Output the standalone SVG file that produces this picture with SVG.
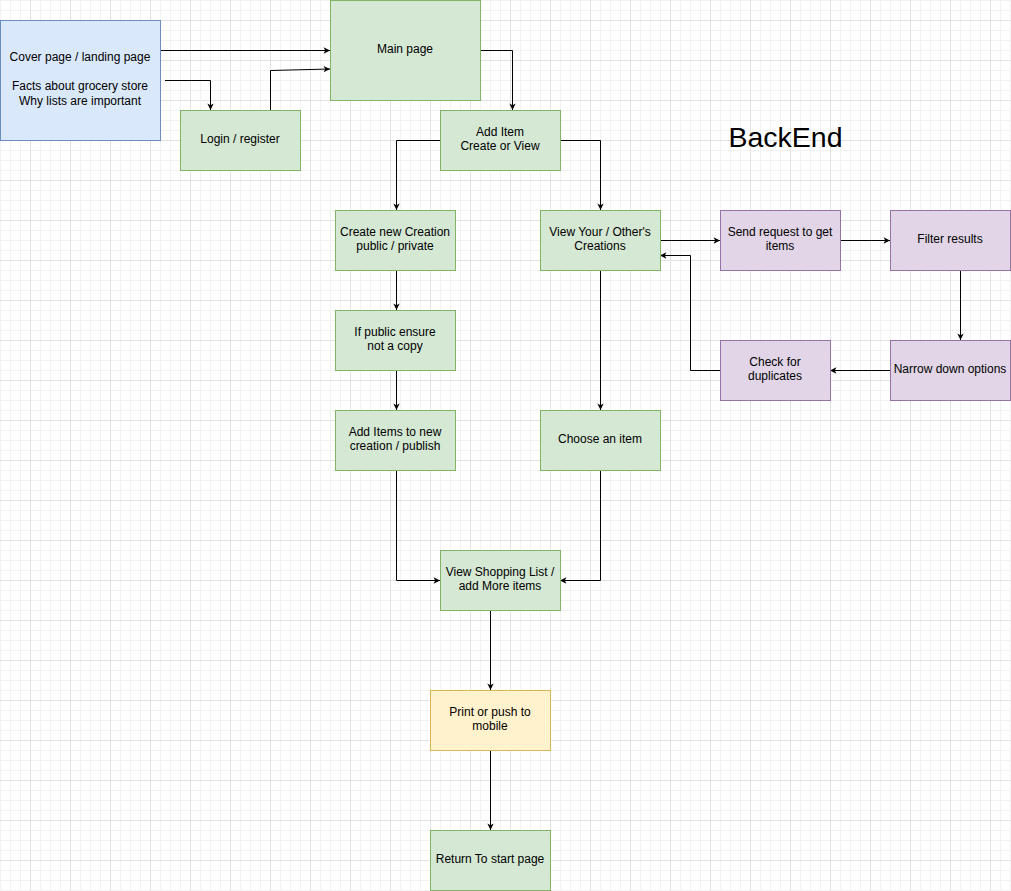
<svg xmlns="http://www.w3.org/2000/svg" width="1011" height="891" viewBox="0 0 1011 891">
<defs>
<pattern id="minor" width="10" height="10" patternUnits="userSpaceOnUse"><path d="M0.5 0V10M0 0.5H10" fill="none" stroke="#f2f2f2" stroke-width="1"/></pattern>
<pattern id="major" x="30" y="20" width="40" height="40" patternUnits="userSpaceOnUse"><path d="M0.5 0V40M0 0.5H40" fill="none" stroke="#e3e3e3" stroke-width="1"/></pattern>
<marker id="arr" viewBox="0 0 10 10" refX="9" refY="5" markerWidth="8" markerHeight="8" markerUnits="userSpaceOnUse" orient="auto"><path d="M1 1L9 5L1 9L3 5Z" fill="#000"/></marker>
</defs>
<style>
.blue{fill:#dae8fc;stroke:#6c8ebf}
.green{fill:#d5e8d4;stroke:#82b366}
.purple{fill:#e1d5e7;stroke:#9673a6}
.yellow{fill:#fff2cc;stroke:#d6b656}
text{font-family:"Liberation Sans",Arial,sans-serif;font-size:12px;fill:#000;text-anchor:middle}
.e{fill:none;stroke:#000;stroke-width:1;marker-end:url(#arr)}
</style>
<rect width="1011" height="891" fill="#fff"/>
<rect width="1011" height="891" fill="url(#minor)"/>
<rect width="1011" height="891" fill="url(#major)"/>
<g id="connectors">
<path class="e" d="M160.5 50.5H330"/>
<path class="e" d="M165 80.5H210.5V110"/>
<path class="e" d="M270.5 110V70.5L330 69"/>
<path class="e" d="M480 50.5H512.5V110"/>
<path class="e" d="M440 140.5H396.5V210"/>
<path class="e" d="M560 140.5H600.5V210"/>
<path class="e" d="M660 240.5H720"/>
<path class="e" d="M840 240.5H890"/>
<path class="e" d="M960.5 270V340"/>
<path class="e" d="M890 370.5H830"/>
<path class="e" d="M720 370.5H690.5V255.5H660"/>
<path class="e" d="M396.5 270V310"/>
<path class="e" d="M396.5 370V410"/>
<path class="e" d="M396.5 470V580.5H440"/>
<path class="e" d="M600.5 270V410"/>
<path class="e" d="M600.5 470V580.5H560"/>
<path class="e" d="M490.5 610V690"/>
<path class="e" d="M490.5 750V830"/>
</g>
<g id="cover"><rect class="blue" x="0.5" y="20.5" width="160" height="120"/><text x="80" y="61">Cover page / landing page</text><text x="80" y="90">Facts about grocery store</text><text x="80" y="105">Why lists are important</text></g>
<g id="login"><rect class="green" x="180.5" y="110.5" width="120" height="60"/><text x="240" y="143">Login / register</text></g>
<g id="main"><rect class="green" x="330.5" y="0.5" width="150" height="100"/><text x="405" y="53">Main page</text></g>
<g id="additem"><rect class="green" x="440.5" y="110.5" width="120" height="60"/><text x="500" y="136">Add Item</text><text x="500" y="150">Create or View</text></g>
<g id="create"><rect class="green" x="335.5" y="210.5" width="120" height="60"/><text x="395" y="236">Create new Creation</text><text x="395" y="250">public / private</text></g>
<g id="view"><rect class="green" x="540.5" y="210.5" width="120" height="60"/><text x="600" y="236">View Your / Other's</text><text x="600" y="250">Creations</text></g>
<g id="send"><rect class="purple" x="720.5" y="210.5" width="120" height="60"/><text x="780" y="236">Send request to get</text><text x="780" y="250">items</text></g>
<g id="filter"><rect class="purple" x="890.5" y="210.5" width="120" height="60"/><text x="950" y="243">Filter results</text></g>
<g id="narrow"><rect class="purple" x="890.5" y="340.5" width="120" height="60"/><text x="950" y="373">Narrow down options</text></g>
<g id="check"><rect class="purple" x="720.5" y="340.5" width="110" height="60"/><text x="775" y="366">Check for</text><text x="775" y="380">duplicates</text></g>
<g id="ifpublic"><rect class="green" x="335.5" y="310.5" width="120" height="60"/><text x="395" y="336">If public ensure</text><text x="395" y="350">not a copy</text></g>
<g id="additems"><rect class="green" x="335.5" y="410.5" width="120" height="60"/><text x="395" y="436">Add Items to new</text><text x="395" y="450">creation / publish</text></g>
<g id="choose"><rect class="green" x="540.5" y="410.5" width="120" height="60"/><text x="600" y="443">Choose an item</text></g>
<g id="shopping"><rect class="green" x="440.5" y="550.5" width="120" height="60"/><text x="500" y="576">View Shopping List /</text><text x="500" y="590">add More items</text></g>
<g id="print"><rect class="yellow" x="430.5" y="690.5" width="120" height="60"/><text x="490" y="716">Print or push to</text><text x="490" y="730">mobile</text></g>
<g id="return"><rect class="green" x="430.5" y="830.5" width="120" height="60"/><text x="490" y="863">Return To start page</text></g>
<g id="backend"><text x="785.5" y="147" style="font-size:28.5px">BackEnd</text></g>
</svg>
